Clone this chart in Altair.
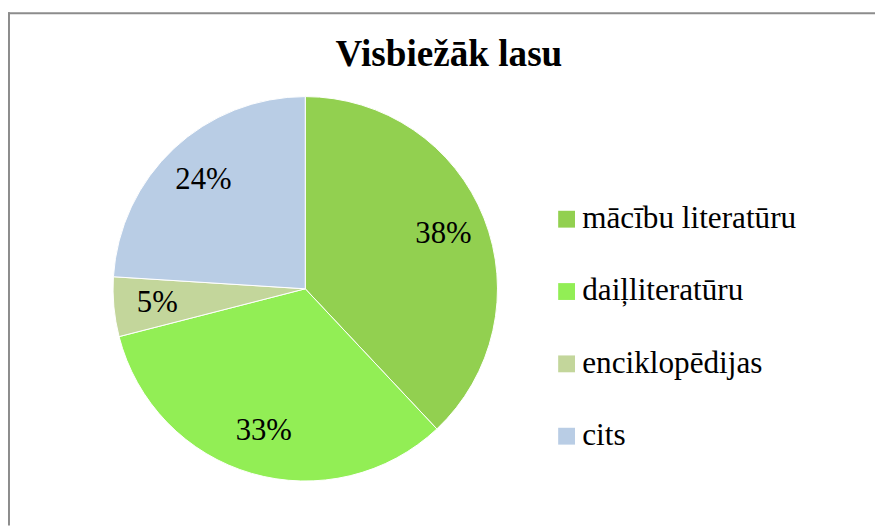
import altair as alt
import pandas as pd

categories = ["mācību literatūru", "daiļliteratūru", "enciklopēdijas", "cits"]
values = [38, 33, 5, 24]
labels = ["38%", "33%", "5%", "24%"]
colors = ["#92D050", "#92EE55", "#C3D69B", "#B9CDE5"]
title_text = "Visbiežāk lasu"

df = pd.DataFrame({"cat": categories, "val": values, "lab": labels, "idx": list(range(len(categories)))})

W, H = 875, 520
CX, CY, R = 300, 281, 194
FONT = "Liberation Serif"

base = alt.Chart(df)

color = alt.Color("cat:N", scale=alt.Scale(domain=categories, range=colors),
                  legend=alt.Legend(orient="none", legendX=548, legendY=195, title=None,
                                    symbolType="square", symbolSize=289, symbolStrokeWidth=0,
                                    labelFont=FONT, labelFontSize=31.5, labelColor="#000000",
                                    rowPadding=40, labelOffset=0, labelLimit=400))

pie = base.mark_arc(stroke="white", strokeWidth=1).encode(
    theta=alt.Theta("val:Q", stack=True),
    color=color,
    order=alt.Order("idx:Q"),
    x=alt.value(CX), y=alt.value(CY), radius=alt.value(R),
)

text = base.mark_text(font=FONT, fontSize=31, color="black", fontWeight="normal").encode(
    theta=alt.Theta("val:Q", stack=True),
    order=alt.Order("idx:Q"),
    text="lab:N",
    x=alt.value(CX), y=alt.value(CY), radius=alt.value(150),
)

title = alt.Chart(pd.DataFrame({"t": [title_text]})).mark_text(
    font=FONT, fontSize=37.5, fontWeight="bold", color="black", baseline="alphabetic"
).encode(text="t:N", x=alt.value(445), y=alt.value(56))

border_top = alt.Chart(pd.DataFrame({"a": [0]})).mark_rule(color="#8c8c8c", strokeWidth=2).encode(
    x=alt.value(0), x2=alt.value(W), y=alt.value(3))
border_left = alt.Chart(pd.DataFrame({"a": [0]})).mark_rule(color="#8c8c8c", strokeWidth=2).encode(
    x=alt.value(1), y=alt.value(2), y2=alt.value(H))

chart = alt.layer(border_top, border_left, pie, text, title).properties(
    width=W, height=H, padding=0, autosize=alt.AutoSizeParams(type="none")
).configure_view(stroke=None)

chart.save("out.html", embed_options={"renderer": "svg", "actions": False})
